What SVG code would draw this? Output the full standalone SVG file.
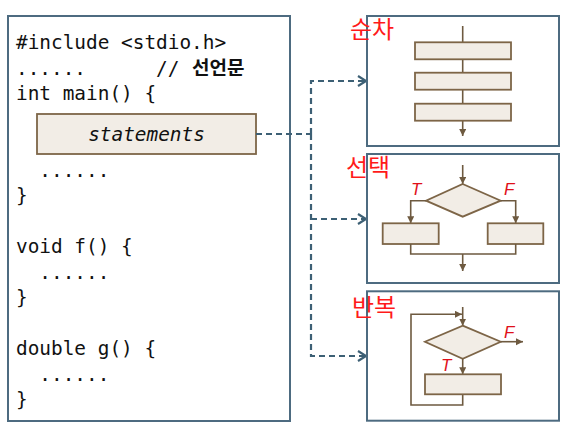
<svg xmlns="http://www.w3.org/2000/svg" width="566" height="430" viewBox="0 0 566 430">
<style>
.frame{fill:#fff;stroke:#4d6b80;stroke-width:2}
.code{font-family:"DejaVu Sans Mono","Liberation Mono",monospace;font-size:19.4px;fill:#111}
.kr{font-family:"Noto Sans CJK KR",sans-serif;font-weight:bold;font-size:19px;fill:#111}
.blk{fill:#f2ede6;stroke:#7d6547;stroke-width:1.8}
.fl{fill:none;stroke:#6e5a40;stroke-width:1.6}
.dash{fill:none;stroke:#3d6075;stroke-width:2.2;stroke-dasharray:6,4}
.tf{font-family:"Liberation Sans",Arial,sans-serif;font-style:italic;font-size:17px;fill:#e0101a}
.hand{font-family:"Noto Sans CJK KR",sans-serif;font-size:24px;fill:#ff1a1a}
</style>
<defs>
<marker id="ah" markerUnits="userSpaceOnUse" markerWidth="8" markerHeight="8" refX="7" refY="3.5" orient="auto"><path d="M0,0 L7,3.5 L0,7 z" fill="#6e5a40"/></marker>
<marker id="dh" markerUnits="userSpaceOnUse" markerWidth="12" markerHeight="14" refX="9" refY="6" orient="auto"><path d="M1,1 L9,6 L1,11" fill="none" stroke="#3d6075" stroke-width="2.2"/></marker>
</defs>

<g id="code-box">
<rect class="frame" x="8" y="16" width="282" height="405"/>
<text class="code" x="16" y="49" xml:space="preserve">#include &lt;stdio.h&gt;</text>
<text class="code" x="16" y="74.5" xml:space="preserve">......      //</text>
<text class="kr" x="192" y="74.5">선언문</text>
<text class="code" x="16" y="100" xml:space="preserve">int main() {</text>
<text class="code" x="16" y="176.5" xml:space="preserve">  ......</text>
<text class="code" x="16" y="202" xml:space="preserve">}</text>
<text class="code" x="16" y="253" xml:space="preserve">void f() {</text>
<text class="code" x="16" y="278.5" xml:space="preserve">  ......</text>
<text class="code" x="16" y="304" xml:space="preserve">}</text>
<text class="code" x="16" y="355" xml:space="preserve">double g() {</text>
<text class="code" x="16" y="380.5" xml:space="preserve">  ......</text>
<text class="code" x="16" y="406" xml:space="preserve">}</text>
</g>

<g id="statements">
<rect class="blk" x="37" y="114" width="219" height="40"/>
<text class="code" x="146.5" y="141" text-anchor="middle" font-style="italic">statements</text>
</g>

<g id="connectors">
<path class="dash" d="M256,134 H311"/>
<path class="dash" d="M311,134 V81 H366" marker-end="url(#dh)"/>
<path class="dash" d="M311,134 V356 H366" marker-end="url(#dh)"/>
<path class="dash" d="M311,219 H366" marker-end="url(#dh)"/>
</g>

<g id="sequence">
<rect class="frame" x="367" y="16" width="192" height="130"/>
<path class="fl" d="M462.7,26 V136" marker-end="url(#ah)"/>
<rect class="blk" x="415" y="42.3" width="96" height="17"/>
<rect class="blk" x="415" y="72.7" width="96" height="17"/>
<rect class="blk" x="415" y="103.7" width="96" height="17"/>
<text class="hand" x="350" y="38">순차</text>
</g>

<g id="selection">
<rect class="frame" x="367" y="154" width="192" height="129"/>
<path class="fl" d="M462.7,165 V184" marker-end="url(#ah)"/>
<path class="blk" d="M462.7,184 L500.7,200.7 L462.7,216.7 L426,200.7 z"/>
<path class="fl" d="M426,200.7 H410.7 V223.3" marker-end="url(#ah)"/>
<path class="fl" d="M500.7,200.7 H515.7 V223.3" marker-end="url(#ah)"/>
<rect class="blk" x="382.7" y="223.3" width="56" height="20.7"/>
<rect class="blk" x="487.7" y="223.3" width="55.6" height="20.7"/>
<path class="fl" d="M410.7,244 V254 H515.7 V244"/>
<path class="fl" d="M462.7,254 V271" marker-end="url(#ah)"/>
<text class="tf" x="411" y="195">T</text>
<text class="tf" x="504" y="195">F</text>
<text class="hand" x="346" y="176">선택</text>
</g>

<g id="loop">
<rect class="frame" x="367" y="291.3" width="192" height="129.4"/>
<path class="fl" d="M462.7,307 V325.7" marker-end="url(#ah)"/>
<path class="fl" d="M462.7,394.3 V405 H411 V314.3 H462" marker-end="url(#ah)"/>
<path class="blk" d="M462.7,325.7 L500.7,341.7 L462.7,358.7 L425,341.7 z"/>
<path class="fl" d="M500.7,341.7 H523" marker-end="url(#ah)"/>
<path class="fl" d="M462.7,358.7 V374.3" marker-end="url(#ah)"/>
<rect class="blk" x="425" y="374.3" width="76" height="20"/>
<text class="tf" x="441" y="370.5">T</text>
<text class="tf" x="504" y="338">F</text>
<text class="hand" x="352" y="316">반복</text>
</g>
</svg>
